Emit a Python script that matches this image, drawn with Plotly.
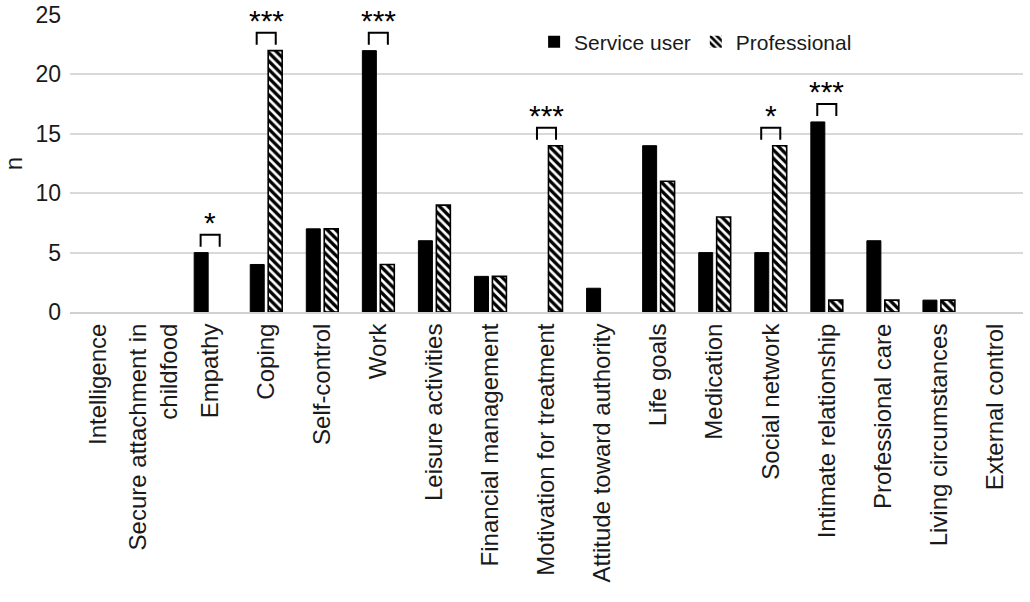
import plotly.graph_objects as go

# categories and counts
categories = [
    "Intelligence", "Secure attachment in<br>childfood", "Empathy", "Coping",
    "Self-control", "Work", "Leisure activities", "Financial management",
    "Motivation for treatment", "Attitude toward authority", "Life goals",
    "Medication", "Social network", "Intimate relationship",
    "Professional care", "Living circumstances", "External control",
]
service_user = [0, 0, 5, 4, 7, 22, 6, 3, 0, 2, 14, 5, 5, 16, 6, 1, 0]
professional = [0, 0, 0, 22, 7, 4, 9, 3, 14, 0, 11, 8, 14, 1, 1, 1, 0]

# significance markers: category index -> stars
sig_index = [2, 3, 5, 8, 12, 13]
sig_stars = ["*", "***", "***", "***", "*", "***"]

FONT = "Arial, Liberation Sans, sans-serif"
xs = list(range(len(categories)))

fig = go.Figure()
fig.add_trace(go.Bar(
    x=xs, y=service_user, name="Service user",
    marker=dict(color="black",
                line=dict(color="black", width=[1 if v else 0 for v in service_user])),
))
fig.add_trace(go.Bar(
    x=xs, y=professional, name="Professional",
    marker=dict(color="white",
                line=dict(color="black", width=[1.6 if v else 0 for v in professional]),
                pattern=dict(shape="\\", fgcolor="black", bgcolor="white",
                             size=6, solidity=0.55, fgopacity=1)),
))

# brackets over the significant pairs
off = 0.17
for i, s in zip(sig_index, sig_stars):
    top = max(service_user[i], professional[i])
    y0, y1 = top + 0.5, top + 1.5
    fig.add_shape(type="path", xref="x", yref="y",
                  path=f"M {i - off} {y0} L {i - off} {y1} L {i + off} {y1} L {i + off} {y0}",
                  line=dict(color="black", width=2))
    fig.add_annotation(x=i, y=y1, text=s, showarrow=False, xref="x", yref="y",
                       yanchor="bottom", yshift=-6,
                       font=dict(family=FONT, size=30, color="black"))

fig.update_layout(
    width=1030, height=602,
    margin=dict(l=70, r=7, t=15, b=290, autoexpand=False),
    plot_bgcolor="white", paper_bgcolor="white",
    barmode="group", bargap=0.36, bargroupgap=0.22,
    font=dict(family=FONT, color="#1a1a1a"),
    showlegend=True,
    legend=dict(orientation="h", x=0.487, y=0.909, xanchor="left", yanchor="middle",
                font=dict(family=FONT, size=21, color="#1a1a1a"),
                bgcolor="rgba(0,0,0,0)", itemwidth=30),
)
fig.update_xaxes(
    tickmode="array", tickvals=xs, ticktext=categories,
    tickangle=-90, tickfont=dict(family=FONT, size=24, color="#1a1a1a"),
    range=[-0.5, len(categories) - 0.5],
    showline=True, linecolor="#d0d0d0", linewidth=2, showgrid=False, ticks="",
)
fig.update_yaxes(
    range=[0, 25], dtick=5, tickfont=dict(family=FONT, size=23, color="#1a1a1a"),
    showgrid=True, gridcolor="#d9d9d9", gridwidth=2,
    zeroline=False, ticks="", ticklabelstandoff=8,
    title=dict(text="n", font=dict(family=FONT, size=24, color="#1a1a1a"), standoff=16),
)

fig.write_html("out.html", config={"displayModeBar": False},
               post_script="document.body.style.margin='0';")
